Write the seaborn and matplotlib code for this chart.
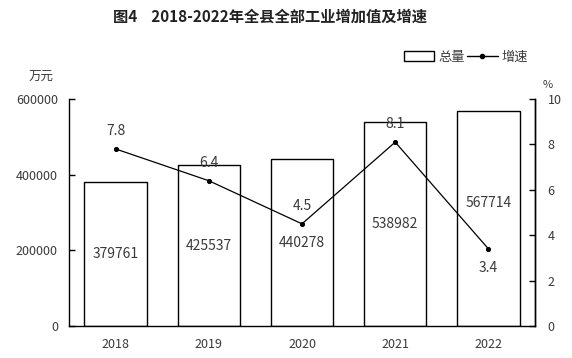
import numpy as np
import pandas as pd
import matplotlib
matplotlib.use("Agg")
import matplotlib.pyplot as plt
import seaborn as sns
from matplotlib.lines import Line2D
from matplotlib.patches import Patch

years = ["2018", "2019", "2020", "2021", "2022"]
total = [379761, 425537, 440278, 538982, 567714]
growth = [7.8, 6.4, 4.5, 8.1, 3.4]
left_ticks = [0, 200000, 400000, 600000]
right_ticks = [0, 2, 4, 6, 8, 10]

sns.set_theme(style="white")
plt.rcParams["font.family"] = ["Noto Sans CJK SC", "DejaVu Sans"]
TXT = "#3a3a3a"

df = pd.DataFrame({"year": years, "total": total, "growth": growth})

fig = plt.figure(figsize=(5.72, 3.58), dpi=100)
ax = fig.add_axes([69/572, 1-326/358, (535-69)/572, (326-99)/358])

sns.barplot(data=df, x="year", y="total", ax=ax, color="white",
            edgecolor="black", linewidth=1.0, width=0.67, saturation=1)
ax.set_ylim(0, 600000)
ax.set_xlim(-0.5, 4.5)
ax.set_yticks(left_ticks)
ax.set_yticklabels([str(t) for t in left_ticks])
ax.set_xlabel("")
ax.set_ylabel("")
ax.tick_params(axis="y", direction="in", length=4, width=1, color="black",
               labelsize=9, labelcolor=TXT, pad=8)
ax.tick_params(axis="x", length=0, labelsize=9, labelcolor=TXT, pad=9)
ax.spines["top"].set_visible(False)
for s in ["left", "bottom", "right"]:
    ax.spines[s].set_color("black")
    ax.spines[s].set_linewidth(1.0)

for i, v in enumerate(total):
    y = v / 2
    if i == len(total) - 1:
        y += 40000
    ax.text(i, y, str(v), ha="center", va="center", fontsize=10, color=TXT)

ax2 = ax.twinx()
sns.pointplot(data=df, x="year", y="growth", ax=ax2, color="black",
              markers="o", markersize=3, linewidth=0.9, errorbar=None)
ax2.set_ylim(0, 10)
ax2.set_xlim(-0.5, 4.5)
ax2.set_yticks(right_ticks)
ax2.set_ylabel("")
ax2.set_xlabel("")
ax2.tick_params(axis="y", direction="in", length=4, width=1, color="black",
                labelsize=9, labelcolor=TXT, pad=9)
for s in ["top", "left", "bottom"]:
    ax2.spines[s].set_visible(False)
ax2.spines["right"].set_color("black")
ax2.spines["right"].set_linewidth(1.0)

for i, g in enumerate(growth):
    off = -19 if i == len(growth) - 1 else 18
    ax2.annotate(f"{g}", (i, g), xytext=(0, off), textcoords="offset pixels",
                 ha="center", va="center", fontsize=10, color=TXT)

fig.text(270/572, 1-17/358, "图4    2018-2022年全县全部工业增加值及增速", ha="center", va="center",
         fontsize=11, fontweight="bold", color="#222222")
fig.text(41/572, 1-77/358, "万元", ha="center", va="center", fontsize=9, color=TXT)
fig.text(548/572, 1-85/358, "%", ha="center", va="center", fontsize=8, color=TXT)

handles = [Patch(facecolor="white", edgecolor="black", linewidth=1.0),
           Line2D([0], [0], color="black", marker="o", markersize=3, linewidth=1.0)]
fig.legend(handles, ["总量", "增速"], loc="center", bbox_to_anchor=(466/572, 1-57/358),
           ncol=2, frameon=False, fontsize=9.5, handlelength=2.3, handleheight=0.7,
           handletextpad=0.3, columnspacing=0.2, labelcolor=TXT)

fig.savefig("out.png", dpi=100)
